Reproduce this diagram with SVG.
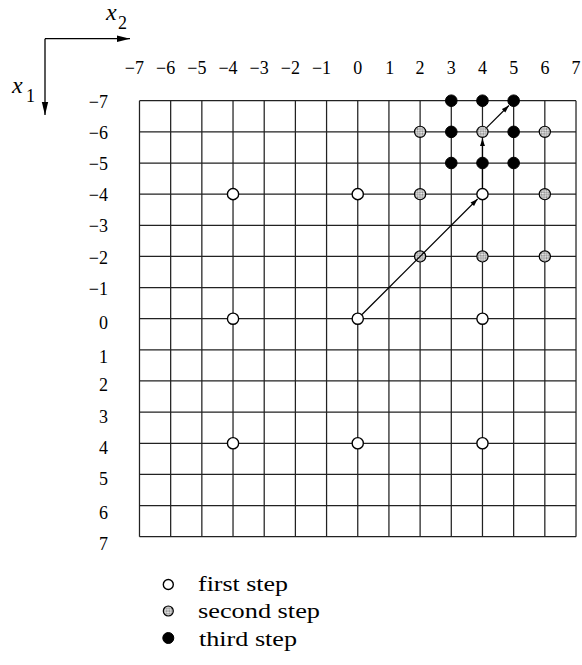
<svg xmlns="http://www.w3.org/2000/svg" width="582" height="665" viewBox="0 0 582 665">
<style>
text{font-family:"Liberation Serif","Tinos","Times New Roman","Nimbus Roman","DejaVu Serif",serif}
.lbl{font-size:18px;fill:#000}
.grid{stroke:#222;stroke-width:1.25;fill:none}
.w{fill:#fff;stroke:#000;stroke-width:1.4}
.g{fill:url(#chk);stroke:#000;stroke-width:1.2}
.b{fill:#000;stroke:#000;stroke-width:1}
.arr{stroke:#000;stroke-width:1.2;fill:none;marker-end:url(#ah)}
.leg{font-size:22px;fill:#000}
.ax{stroke:#000;stroke-width:1.3;marker-end:url(#ax)}
</style>
<defs>
<pattern id="chk" patternUnits="userSpaceOnUse" width="2.4" height="2.4" patternTransform="rotate(45)">
<rect width="2.4" height="2.4" fill="#f2f2f2"/>
<rect width="1.2" height="1.2" fill="#858585"/>
<rect x="1.2" y="1.2" width="1.2" height="1.2" fill="#858585"/>
</pattern>
<marker id="ah" markerWidth="8" markerHeight="6" refX="7.5" refY="3" orient="auto" markerUnits="userSpaceOnUse">
<path d="M0,0.5 L7.5,3 L0,5.5 z" fill="#000"/>
</marker>
<marker id="ax" markerWidth="14" markerHeight="8" refX="13" refY="4" orient="auto" markerUnits="userSpaceOnUse">
<path d="M0,0.8 L13,4 L0,7.2 z" fill="#000"/>
</marker>
</defs>

<g id="axes">
<line class="ax" x1="45" y1="38.7" x2="130" y2="38.7"/>
<line class="ax" x1="45" y1="38.7" x2="45" y2="115"/>
<text x="106" y="20" font-size="24" font-style="italic">x</text>
<text x="118" y="29" font-size="18">2</text>
<text x="12" y="93" font-size="24" font-style="italic">x</text>
<text x="26" y="102" font-size="18">1</text>
</g>

<g id="col-labels" class="lbl" text-anchor="end">
<text x="144" y="74">−7</text>
<text x="175.2" y="74">−6</text>
<text x="206.4" y="74">−5</text>
<text x="237.6" y="74">−4</text>
<text x="268.7" y="74">−3</text>
<text x="299.9" y="74">−2</text>
<text x="331.1" y="74">−1</text>
<text x="362.3" y="74">0</text>
<text x="394.3" y="74">1</text>
<text x="424.6" y="74">2</text>
<text x="455.8" y="74">3</text>
<text x="487" y="74">4</text>
<text x="518.2" y="74">5</text>
<text x="549.4" y="74">6</text>
<text x="580.5" y="74">7</text>
</g>

<g id="row-labels" class="lbl" text-anchor="end">
<text x="108" y="108">−7</text>
<text x="108" y="139">−6</text>
<text x="108" y="170">−5</text>
<text x="108" y="201">−4</text>
<text x="108" y="232">−3</text>
<text x="108" y="263.5">−2</text>
<text x="108" y="294.5">−1</text>
<text x="108" y="329">0</text>
<text x="108" y="363">1</text>
<text x="108" y="391">2</text>
<text x="108" y="422.5">3</text>
<text x="108" y="453.5">4</text>
<text x="108" y="484.5">5</text>
<text x="108" y="519">6</text>
<text x="108" y="549.5">7</text>
</g>

<g id="grid" class="grid">
<path d="M139.49,100.72V536.68 M170.67,100.72V536.68 M201.85,100.72V536.68 M233.03,100.72V536.68 M264.21,100.72V536.68 M295.39,100.72V536.68 M326.57,100.72V536.68 M357.75,100.72V536.68 M388.93,100.72V536.68 M420.11,100.72V536.68 M451.29,100.72V536.68 M482.47,100.72V536.68 M513.65,100.72V536.68 M544.83,100.72V536.68 M576.01,100.72V536.68"/>
<path d="M139.49,100.72H576.01 M139.49,131.86H576.01 M139.49,163H576.01 M139.49,194.14H576.01 M139.49,225.28H576.01 M139.49,256.42H576.01 M139.49,287.56H576.01 M139.49,318.7H576.01 M139.49,349.84H576.01 M139.49,380.98H576.01 M139.49,412.12H576.01 M139.49,443.26H576.01 M139.49,474.4H576.01 M139.49,505.54H576.01 M139.49,536.68H576.01"/>
</g>

<g id="first-step">
<circle class="w" cx="233.03" cy="194.14" r="5.6"/>
<circle class="w" cx="357.75" cy="194.14" r="5.6"/>
<circle class="w" cx="482.47" cy="194.14" r="5.6"/>
<circle class="w" cx="233.03" cy="318.7" r="5.6"/>
<circle class="w" cx="357.75" cy="318.7" r="5.6"/>
<circle class="w" cx="482.47" cy="318.7" r="5.6"/>
<circle class="w" cx="233.03" cy="443.26" r="5.6"/>
<circle class="w" cx="357.75" cy="443.26" r="5.6"/>
<circle class="w" cx="482.47" cy="443.26" r="5.6"/>
</g>

<g id="second-step">
<circle class="g" cx="420.11" cy="131.86" r="5.6"/>
<circle class="g" cx="482.47" cy="131.86" r="5.6"/>
<circle class="g" cx="544.83" cy="131.86" r="5.6"/>
<circle class="g" cx="420.11" cy="194.14" r="5.6"/>
<circle class="g" cx="544.83" cy="194.14" r="5.6"/>
<circle class="g" cx="420.11" cy="256.42" r="5.6"/>
<circle class="g" cx="482.47" cy="256.42" r="5.6"/>
<circle class="g" cx="544.83" cy="256.42" r="5.6"/>
</g>

<g id="third-step">
<circle class="b" cx="451.29" cy="100.72" r="5.8"/>
<circle class="b" cx="482.47" cy="100.72" r="5.8"/>
<circle class="b" cx="513.65" cy="100.72" r="5.8"/>
<circle class="b" cx="451.29" cy="131.86" r="5.8"/>
<circle class="b" cx="513.65" cy="131.86" r="5.8"/>
<circle class="b" cx="451.29" cy="163" r="5.8"/>
<circle class="b" cx="482.47" cy="163" r="5.8"/>
<circle class="b" cx="513.65" cy="163" r="5.8"/>
</g>

<g id="connectors">
<line class="arr" x1="362" y1="314.5" x2="477.6" y2="199"/>
<line class="arr" x1="482.47" y1="187.8" x2="482.47" y2="138.6"/>
<line class="arr" x1="486.7" y1="127.6" x2="508.9" y2="105.5"/>
</g>

<g id="legend">
<circle class="w" cx="168.3" cy="584.5" r="5"/>
<circle class="g" cx="168.3" cy="611" r="5"/>
<circle class="b" cx="168.3" cy="638" r="5.5"/>
<text class="leg" x="198" y="591" textLength="90" lengthAdjust="spacingAndGlyphs">first step</text>
<text class="leg" x="198" y="618" textLength="122" lengthAdjust="spacingAndGlyphs">second step</text>
<text class="leg" x="199" y="646" textLength="98" lengthAdjust="spacingAndGlyphs">third step</text>
</g>
</svg>
